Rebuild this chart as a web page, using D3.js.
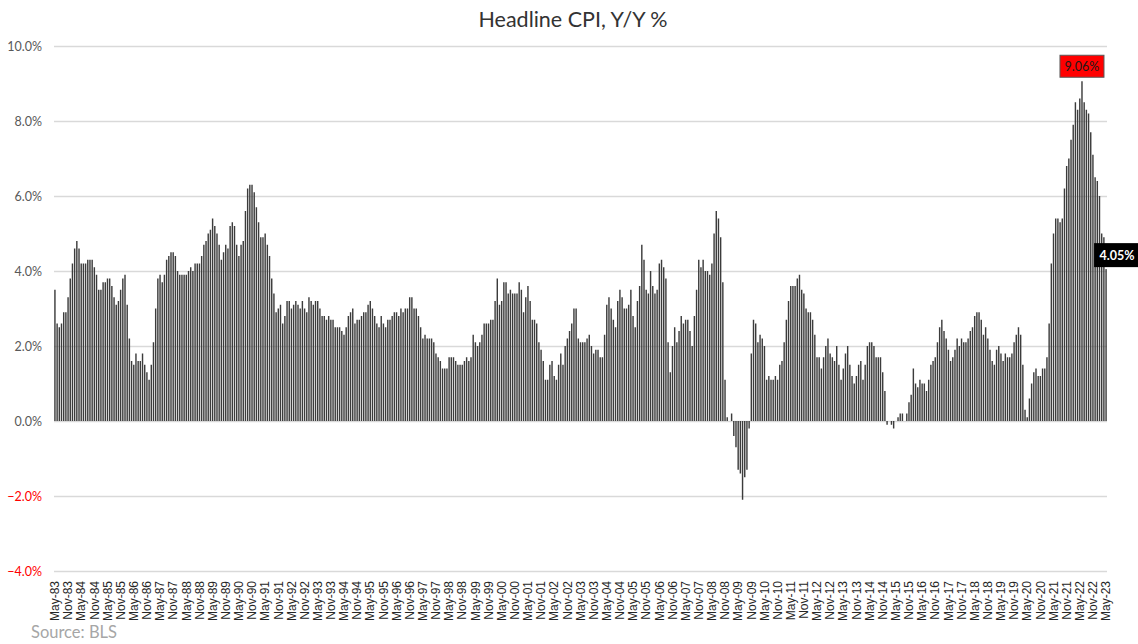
<!DOCTYPE html>
<html>
<head>
<meta charset="utf-8">
<script src="https://cdn.jsdelivr.net/npm/d3@7"></script>
<style>
  html, body { margin: 0; padding: 0; background: #fff; }
  svg { display: block; }
</style>
</head>
<body>
<svg id="chart" width="1138" height="644"></svg>
<script>
// Headline CPI, year-over-year % change, monthly from May 1983 to May 2023
const cpiYoY = [
  3.5, 2.6, 2.5, 2.6, 2.9, 2.9, 3.3, 3.8,                         // 1983 (May-Dec)
  4.2, 4.6, 4.8, 4.6, 4.2, 4.2, 4.2, 4.3, 4.3, 4.3, 4.1, 3.9,     // 1984
  3.5, 3.5, 3.7, 3.7, 3.8, 3.8, 3.6, 3.3, 3.1, 3.2, 3.5, 3.8,     // 1985
  3.9, 3.1, 2.2, 1.6, 1.5, 1.8, 1.6, 1.6, 1.8, 1.5, 1.3, 1.1,     // 1986
  1.5, 2.1, 3.0, 3.8, 3.9, 3.7, 3.9, 4.3, 4.4, 4.5, 4.5, 4.4,     // 1987
  4.0, 3.9, 3.9, 3.9, 3.9, 4.0, 4.1, 4.0, 4.2, 4.2, 4.2, 4.4,     // 1988
  4.7, 4.8, 5.0, 5.1, 5.4, 5.2, 5.0, 4.7, 4.3, 4.5, 4.7, 4.6,     // 1989
  5.2, 5.3, 5.2, 4.7, 4.4, 4.7, 4.8, 5.6, 6.2, 6.3, 6.3, 6.1,     // 1990
  5.7, 5.3, 4.9, 4.9, 5.0, 4.7, 4.4, 3.8, 3.4, 2.9, 3.0, 3.1,     // 1991
  2.6, 2.8, 3.2, 3.2, 3.0, 3.1, 3.2, 3.1, 3.0, 3.2, 3.0, 2.9,     // 1992
  3.3, 3.2, 3.1, 3.2, 3.2, 3.0, 2.8, 2.8, 2.7, 2.8, 2.7, 2.7,     // 1993
  2.5, 2.5, 2.5, 2.4, 2.3, 2.5, 2.8, 2.9, 3.0, 2.6, 2.7, 2.7,     // 1994
  2.8, 2.9, 2.9, 3.1, 3.2, 3.0, 2.8, 2.6, 2.5, 2.8, 2.6, 2.5,     // 1995
  2.7, 2.7, 2.8, 2.9, 2.9, 2.8, 3.0, 2.9, 3.0, 3.0, 3.3, 3.3,     // 1996
  3.0, 3.0, 2.8, 2.5, 2.2, 2.3, 2.2, 2.2, 2.2, 2.1, 1.8, 1.7,     // 1997
  1.6, 1.4, 1.4, 1.4, 1.7, 1.7, 1.7, 1.6, 1.5, 1.5, 1.5, 1.6,     // 1998
  1.7, 1.6, 1.7, 2.3, 2.1, 2.0, 2.1, 2.3, 2.6, 2.6, 2.6, 2.7,     // 1999
  2.7, 3.2, 3.8, 3.1, 3.2, 3.7, 3.7, 3.4, 3.5, 3.4, 3.4, 3.4,     // 2000
  3.7, 3.5, 2.9, 3.3, 3.6, 3.2, 2.7, 2.7, 2.6, 2.1, 1.9, 1.6,     // 2001
  1.1, 1.1, 1.5, 1.6, 1.2, 1.1, 1.5, 1.8, 1.5, 2.0, 2.2, 2.4,     // 2002
  2.6, 3.0, 3.0, 2.2, 2.1, 2.1, 2.1, 2.2, 2.3, 2.0, 1.8, 1.9,     // 2003
  1.9, 1.7, 1.7, 2.3, 3.1, 3.3, 3.0, 2.7, 2.5, 3.2, 3.5, 3.3,     // 2004
  3.0, 3.0, 3.1, 3.5, 2.8, 2.5, 3.2, 3.6, 4.7, 4.3, 3.5, 3.4,     // 2005
  4.0, 3.6, 3.4, 3.5, 4.2, 4.3, 4.1, 3.8, 2.1, 1.3, 2.0, 2.5,     // 2006
  2.1, 2.4, 2.8, 2.6, 2.7, 2.7, 2.4, 2.0, 2.8, 3.5, 4.3, 4.1,     // 2007
  4.3, 4.0, 4.0, 3.9, 4.2, 5.0, 5.6, 5.4, 4.9, 3.7, 1.1, 0.1,     // 2008
  0.0, 0.2, -0.4, -0.7, -1.3, -1.4, -2.1, -1.5, -1.3, -0.2, 1.8, 2.7, // 2009
  2.6, 2.1, 2.3, 2.2, 2.0, 1.1, 1.2, 1.1, 1.1, 1.2, 1.1, 1.5,     // 2010
  1.6, 2.1, 2.7, 3.2, 3.6, 3.6, 3.6, 3.8, 3.9, 3.5, 3.4, 3.0,     // 2011
  2.9, 2.9, 2.7, 2.3, 1.7, 1.7, 1.4, 1.7, 2.0, 2.2, 1.8, 1.7,     // 2012
  1.6, 2.0, 1.5, 1.1, 1.4, 1.8, 2.0, 1.5, 1.2, 1.0, 1.2, 1.5,     // 2013
  1.6, 1.1, 1.5, 2.0, 2.1, 2.1, 2.0, 1.7, 1.7, 1.7, 1.3, 0.8,     // 2014
  -0.1, 0.0, -0.1, -0.2, 0.0, 0.1, 0.2, 0.2, 0.0, 0.2, 0.5, 0.7,  // 2015
  1.4, 1.0, 0.9, 1.1, 1.0, 1.0, 0.8, 1.1, 1.5, 1.6, 1.7, 2.1,     // 2016
  2.5, 2.7, 2.4, 2.2, 1.9, 1.6, 1.7, 1.9, 2.2, 2.0, 2.2, 2.1,     // 2017
  2.1, 2.2, 2.4, 2.5, 2.8, 2.9, 2.9, 2.7, 2.3, 2.5, 2.2, 1.9,     // 2018
  1.6, 1.5, 1.9, 2.0, 1.8, 1.6, 1.8, 1.7, 1.7, 1.8, 2.1, 2.3,     // 2019
  2.5, 2.3, 1.5, 0.3, 0.1, 0.6, 1.0, 1.3, 1.4, 1.2, 1.2, 1.4,     // 2020
  1.4, 1.7, 2.6, 4.2, 5.0, 5.4, 5.4, 5.3, 5.4, 6.2, 6.8, 7.0,     // 2021
  7.5, 7.9, 8.5, 8.3, 8.6, 9.06, 8.5, 8.3, 8.2, 7.7, 7.1, 6.5,    // 2022
  6.4, 6.0, 5.0, 4.9, 4.05                                        // 2023 (Jan-May)
];

// Axis labels, one every six months starting with the first bar
const tickLabels = [
  "May-83","Nov-83","May-84","Nov-84","May-85","Nov-85","May-86","Nov-86",
  "May-87","Nov-87","May-88","Nov-88","May-89","Nov-89","May-90","Nov-90",
  "May-91","Nov-91","May-92","Nov-92","May-93","Nov-93","May-94","Nov-94",
  "May-95","Nov-95","May-96","Nov-96","May-97","Nov-97","May-98","Nov-98",
  "May-99","Nov-99","May-00","Nov-00","May-01","Nov-01","May-02","Nov-02",
  "May-03","Nov-03","May-04","Nov-04","May-05","Nov-05","May-06","Nov-06",
  "May-07","Nov-07","May-08","Nov-08","May-09","Nov-09","May-10","Nov-10",
  "May-11","Nov-11","May-12","Nov-12","May-13","Nov-13","May-14","Nov-14",
  "May-15","Nov-15","May-16","Nov-16","May-17","Nov-17","May-18","Nov-18",
  "May-19","Nov-19","May-20","Nov-20","May-21","Nov-21","May-22","Nov-22",
  "May-23"
];
const tickStep = 6;
const yTicks = [-4, -2, 0, 2, 4, 6, 8, 10];

// Highlighted observations: the cycle peak and the latest reading
const peakIndex = cpiYoY.indexOf(d3.max(cpiYoY));
const lastIndex = cpiYoY.length - 1;

const svg = d3.select("#chart");
const plot = { left: 54, right: 1107, top: 46, bottom: 571 };

const x = d3.scaleBand()
  .domain(d3.range(cpiYoY.length))
  .range([plot.left, plot.right])
  .paddingInner(0.35)
  .paddingOuter(0.1);

const y = d3.scaleLinear().domain([-4, 10]).range([plot.bottom, plot.top]);

// Gridlines and value labels
const yAxis = svg.append("g")
  .attr("transform", `translate(${plot.left},0)`)
  .call(d3.axisLeft(y)
    .tickValues(yTicks)
    .tickSize(-(plot.right - plot.left))
    .tickPadding(12)
    .tickFormat(d => d3.format(".1f")(d) + "%"));
yAxis.select(".domain").remove();
yAxis.selectAll(".tick line").attr("stroke", "#d9d9d9").attr("stroke-width", 1.3);
yAxis.selectAll(".tick text")
  .attr("font-family", "Lato, 'Open Sans', sans-serif")
  .attr("font-size", 12.5)
  .attr("fill", d => d < 0 ? "#ff0000" : "#595959");

// Bars
svg.append("g")
  .selectAll("rect")
  .data(cpiYoY)
  .join("rect")
  .attr("x", (d, i) => x(i))
  .attr("width", x.bandwidth())
  .attr("y", d => y(Math.max(0, d)))
  .attr("height", d => Math.abs(y(d) - y(0)))
  .attr("fill", "#3c3c3c");

// Month labels
const xAxis = svg.append("g")
  .attr("transform", `translate(0,${plot.bottom})`)
  .call(d3.axisBottom(x)
    .tickValues(d3.range(0, cpiYoY.length, tickStep))
    .tickSize(0)
    .tickFormat(i => tickLabels[i / tickStep]));
xAxis.select(".domain").remove();
xAxis.selectAll(".tick text")
  .attr("font-family", "'Liberation Sans', Arial, sans-serif")
  .attr("font-size", 12)
  .attr("fill", "#262626")
  .attr("text-anchor", "end")
  .attr("transform", "rotate(-90)")
  .attr("x", -10)
  .attr("y", 0)
  .attr("dy", "0.35em");

// Title
svg.append("text")
  .attr("x", 573).attr("y", 27)
  .attr("text-anchor", "middle")
  .attr("font-family", "Lato, 'Open Sans', sans-serif")
  .attr("font-size", 21.5)
  .attr("fill", "#333333")
  .text("Headline CPI, Y/Y %");

// Source note
svg.append("text")
  .attr("x", 31).attr("y", 638)
  .attr("font-family", "Lato, 'Open Sans', sans-serif")
  .attr("font-size", 16.5)
  .attr("fill", "#a6a6a6")
  .text("Source: BLS");

// Peak value callout
const pctFmt = d => d3.format(".2f")(d) + "%";
const peakX = x(peakIndex) + x.bandwidth() / 2;
const peakG = svg.append("g");
peakG.append("rect")
  .attr("x", peakX - 22).attr("y", y(cpiYoY[peakIndex]) - 26)
  .attr("width", 44).attr("height", 22)
  .attr("fill", "#ff0000").attr("stroke", "#595959").attr("stroke-width", 1);
peakG.append("text")
  .attr("x", peakX).attr("y", y(cpiYoY[peakIndex]) - 15)
  .attr("dy", "0.35em").attr("text-anchor", "middle")
  .attr("font-family", "Lato, 'Open Sans', sans-serif")
  .attr("font-size", 12.5)
  .attr("fill", "#1a1a1a")
  .text(pctFmt(cpiYoY[peakIndex]));

// Latest value callout
const lastX = x(lastIndex) + x.bandwidth() / 2;
const lastG = svg.append("g");
lastG.append("rect")
  .attr("x", lastX - 12).attr("y", y(cpiYoY[lastIndex]) - 26)
  .attr("width", 46).attr("height", 24)
  .attr("fill", "#000000");
lastG.append("text")
  .attr("x", lastX + 11).attr("y", y(cpiYoY[lastIndex]) - 14)
  .attr("dy", "0.35em").attr("text-anchor", "middle")
  .attr("font-family", "Lato, 'Open Sans', sans-serif")
  .attr("font-size", 12.5)
  .attr("font-weight", "bold")
  .attr("fill", "#ffffff")
  .text(pctFmt(cpiYoY[lastIndex]));
</script>
</body>
</html>
